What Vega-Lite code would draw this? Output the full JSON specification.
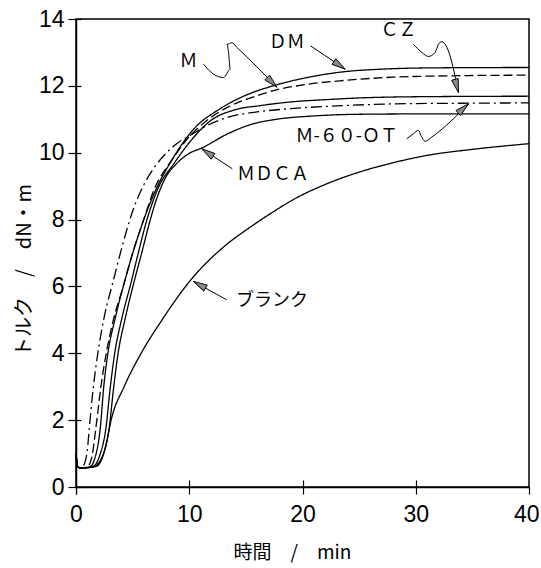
{
  "$schema": "https://vega.github.io/schema/vega-lite/v6.json",
  "width": 453,
  "height": 468,
  "autosize": {"type": "none"},
  "padding": {"left": 76, "top": 19, "right": 12, "bottom": 81},
  "background": "white",
  "config": {
    "view": {"stroke": "black", "strokeWidth": 1.5},
    "axis": {"grid": false, "domainColor": "black", "domainWidth": 1.5, "tickColor": "black", "tickWidth": 1.2, "labelColor": "black", "titleColor": "black"}
  },
  "datasets": {
    "curves": [
      {"s": "DM", "t": 0, "v": 1.0}, {"s": "DM", "t": 0.15, "v": 0.6}, {"s": "DM", "t": 0.5, "v": 0.57}, {"s": "DM", "t": 1.2, "v": 0.6}, {"s": "DM", "t": 1.7, "v": 0.9}, {"s": "DM", "t": 2.15, "v": 1.78}, {"s": "DM", "t": 2.45, "v": 3.0}, {"s": "DM", "t": 2.8, "v": 3.96}, {"s": "DM", "t": 3.5, "v": 5.1}, {"s": "DM", "t": 4.5, "v": 6.4}, {"s": "DM", "t": 5.9, "v": 7.92}, {"s": "DM", "t": 7.06, "v": 8.9}, {"s": "DM", "t": 8.5, "v": 9.8}, {"s": "DM", "t": 10.4, "v": 10.71}, {"s": "DM", "t": 12.7, "v": 11.31}, {"s": "DM", "t": 15, "v": 11.72}, {"s": "DM", "t": 17.4, "v": 12.0}, {"s": "DM", "t": 20, "v": 12.22}, {"s": "DM", "t": 23.6, "v": 12.42}, {"s": "DM", "t": 27, "v": 12.5}, {"s": "DM", "t": 32, "v": 12.54}, {"s": "DM", "t": 40, "v": 12.55},
      {"s": "M", "t": 0, "v": 1.0}, {"s": "M", "t": 0.15, "v": 0.6}, {"s": "M", "t": 0.5, "v": 0.57}, {"s": "M", "t": 1.0, "v": 0.6}, {"s": "M", "t": 1.4, "v": 0.9}, {"s": "M", "t": 1.76, "v": 1.78}, {"s": "M", "t": 2.2, "v": 3.0}, {"s": "M", "t": 2.65, "v": 3.96}, {"s": "M", "t": 3.3, "v": 5.0}, {"s": "M", "t": 4.12, "v": 5.94}, {"s": "M", "t": 5.0, "v": 7.0}, {"s": "M", "t": 5.9, "v": 7.92}, {"s": "M", "t": 6.9, "v": 8.9}, {"s": "M", "t": 8.4, "v": 9.75}, {"s": "M", "t": 9.8, "v": 10.4}, {"s": "M", "t": 11.5, "v": 10.95}, {"s": "M", "t": 13.5, "v": 11.38}, {"s": "M", "t": 15.5, "v": 11.65}, {"s": "M", "t": 17.7, "v": 11.88}, {"s": "M", "t": 20.5, "v": 12.05}, {"s": "M", "t": 23.6, "v": 12.16}, {"s": "M", "t": 28, "v": 12.26}, {"s": "M", "t": 33, "v": 12.3}, {"s": "M", "t": 40, "v": 12.32},
      {"s": "CZ", "t": 0, "v": 1.0}, {"s": "CZ", "t": 0.15, "v": 0.6}, {"s": "CZ", "t": 0.5, "v": 0.57}, {"s": "CZ", "t": 1.5, "v": 0.62}, {"s": "CZ", "t": 2.1, "v": 0.95}, {"s": "CZ", "t": 2.65, "v": 1.78}, {"s": "CZ", "t": 3.0, "v": 2.9}, {"s": "CZ", "t": 3.4, "v": 3.96}, {"s": "CZ", "t": 4.05, "v": 5.05}, {"s": "CZ", "t": 4.85, "v": 6.1}, {"s": "CZ", "t": 5.5, "v": 7.0}, {"s": "CZ", "t": 6.2, "v": 7.92}, {"s": "CZ", "t": 7.2, "v": 8.9}, {"s": "CZ", "t": 8.7, "v": 9.7}, {"s": "CZ", "t": 10, "v": 10.3}, {"s": "CZ", "t": 11.85, "v": 10.95}, {"s": "CZ", "t": 14, "v": 11.28}, {"s": "CZ", "t": 16.3, "v": 11.41}, {"s": "CZ", "t": 19, "v": 11.52}, {"s": "CZ", "t": 22.2, "v": 11.59}, {"s": "CZ", "t": 26, "v": 11.65}, {"s": "CZ", "t": 32, "v": 11.68}, {"s": "CZ", "t": 40, "v": 11.69},
      {"s": "M-60-OT", "t": 0, "v": 1.0}, {"s": "M-60-OT", "t": 0.15, "v": 0.6}, {"s": "M-60-OT", "t": 0.5, "v": 0.57}, {"s": "M-60-OT", "t": 0.8, "v": 0.75}, {"s": "M-60-OT", "t": 1.0, "v": 1.1}, {"s": "M-60-OT", "t": 1.18, "v": 1.78}, {"s": "M-60-OT", "t": 1.5, "v": 2.9}, {"s": "M-60-OT", "t": 1.91, "v": 3.96}, {"s": "M-60-OT", "t": 2.5, "v": 5.1}, {"s": "M-60-OT", "t": 3.24, "v": 6.1}, {"s": "M-60-OT", "t": 4.0, "v": 7.1}, {"s": "M-60-OT", "t": 5.0, "v": 8.25}, {"s": "M-60-OT", "t": 6.0, "v": 9.05}, {"s": "M-60-OT", "t": 7.0, "v": 9.6}, {"s": "M-60-OT", "t": 8.0, "v": 10.0}, {"s": "M-60-OT", "t": 9.0, "v": 10.3}, {"s": "M-60-OT", "t": 10.0, "v": 10.5}, {"s": "M-60-OT", "t": 11.5, "v": 10.8}, {"s": "M-60-OT", "t": 13.3, "v": 11.05}, {"s": "M-60-OT", "t": 16, "v": 11.22}, {"s": "M-60-OT", "t": 19, "v": 11.32}, {"s": "M-60-OT", "t": 23, "v": 11.4}, {"s": "M-60-OT", "t": 28, "v": 11.46}, {"s": "M-60-OT", "t": 34, "v": 11.48}, {"s": "M-60-OT", "t": 40, "v": 11.49},
      {"s": "MDCA", "t": 0, "v": 1.0}, {"s": "MDCA", "t": 0.15, "v": 0.6}, {"s": "MDCA", "t": 0.5, "v": 0.57}, {"s": "MDCA", "t": 1.5, "v": 0.6}, {"s": "MDCA", "t": 2.3, "v": 0.9}, {"s": "MDCA", "t": 2.94, "v": 1.78}, {"s": "MDCA", "t": 3.3, "v": 2.9}, {"s": "MDCA", "t": 3.7, "v": 3.96}, {"s": "MDCA", "t": 4.35, "v": 5.05}, {"s": "MDCA", "t": 5.1, "v": 6.1}, {"s": "MDCA", "t": 5.8, "v": 7.0}, {"s": "MDCA", "t": 6.5, "v": 7.92}, {"s": "MDCA", "t": 7.1, "v": 8.6}, {"s": "MDCA", "t": 7.9, "v": 9.25}, {"s": "MDCA", "t": 8.9, "v": 9.68}, {"s": "MDCA", "t": 10, "v": 9.98}, {"s": "MDCA", "t": 11.1, "v": 10.14}, {"s": "MDCA", "t": 13.3, "v": 10.55}, {"s": "MDCA", "t": 15.5, "v": 10.85}, {"s": "MDCA", "t": 17.7, "v": 11.0}, {"s": "MDCA", "t": 21, "v": 11.1}, {"s": "MDCA", "t": 25, "v": 11.15}, {"s": "MDCA", "t": 30, "v": 11.16}, {"s": "MDCA", "t": 40, "v": 11.16},
      {"s": "ブランク", "t": 0, "v": 1.0}, {"s": "ブランク", "t": 0.15, "v": 0.6}, {"s": "ブランク", "t": 0.5, "v": 0.57}, {"s": "ブランク", "t": 1.8, "v": 0.62}, {"s": "ブランク", "t": 2.4, "v": 0.95}, {"s": "ブランク", "t": 2.7, "v": 1.35}, {"s": "ブランク", "t": 3.1, "v": 2.0}, {"s": "ブランク", "t": 4.25, "v": 3.0}, {"s": "ブランク", "t": 5.75, "v": 4.0}, {"s": "ブランク", "t": 7.5, "v": 4.95}, {"s": "ブランク", "t": 10.15, "v": 6.2}, {"s": "ブランク", "t": 13.1, "v": 7.2}, {"s": "ブランク", "t": 15.5, "v": 7.8}, {"s": "ブランク", "t": 17.5, "v": 8.25}, {"s": "ブランク", "t": 19.2, "v": 8.6}, {"s": "ブランク", "t": 22, "v": 9.05}, {"s": "ブランク", "t": 25.1, "v": 9.43}, {"s": "ブランク", "t": 28, "v": 9.7}, {"s": "ブランク", "t": 31, "v": 9.92}, {"s": "ブランク", "t": 35, "v": 10.1}, {"s": "ブランク", "t": 40, "v": 10.27}
    ],
    "leaders": [
      {"id": "DM", "k": 1, "t": 20.7, "v": 13.2}, {"id": "DM", "k": 2, "t": 23.77, "v": 12.5},
      {"id": "M", "k": 1, "t": 11.26, "v": 12.65}, {"id": "M", "k": 2, "t": 12.14, "v": 12.35}, {"id": "M", "k": 3, "t": 13.03, "v": 12.25}, {"id": "M", "k": 4, "t": 13.62, "v": 12.5}, {"id": "M", "k": 5, "t": 13.47, "v": 13.0}, {"id": "M", "k": 6, "t": 13.33, "v": 13.24}, {"id": "M", "k": 7, "t": 13.77, "v": 13.29}, {"id": "M", "k": 8, "t": 14.21, "v": 13.15}, {"id": "M", "k": 9, "t": 17.74, "v": 11.96},
      {"id": "CZ", "k": 1, "t": 29.8, "v": 13.24}, {"id": "CZ", "k": 2, "t": 30.54, "v": 13.0}, {"id": "CZ", "k": 3, "t": 31.12, "v": 12.88}, {"id": "CZ", "k": 4, "t": 31.71, "v": 13.0}, {"id": "CZ", "k": 5, "t": 32.0, "v": 13.24}, {"id": "CZ", "k": 6, "t": 32.3, "v": 13.32}, {"id": "CZ", "k": 7, "t": 32.75, "v": 13.15}, {"id": "CZ", "k": 8, "t": 33.77, "v": 11.8},
      {"id": "OT", "k": 1, "t": 29.21, "v": 10.42}, {"id": "OT", "k": 2, "t": 29.8, "v": 10.57}, {"id": "OT", "k": 3, "t": 30.24, "v": 10.67}, {"id": "OT", "k": 4, "t": 30.45, "v": 10.52}, {"id": "OT", "k": 5, "t": 30.83, "v": 10.34}, {"id": "OT", "k": 6, "t": 31.42, "v": 10.47}, {"id": "OT", "k": 7, "t": 34.65, "v": 11.46},
      {"id": "MDCA", "k": 1, "t": 13.8, "v": 9.52}, {"id": "MDCA", "k": 2, "t": 11.1, "v": 10.12},
      {"id": "BL", "k": 1, "t": 13.3, "v": 5.6}, {"id": "BL", "k": 2, "t": 10.38, "v": 6.15}
    ],
    "heads": [
      {"id": "DM", "t": 23.77, "v": 12.5, "dir": 124},
      {"id": "M", "t": 17.74, "v": 11.96, "dir": 135},
      {"id": "CZ", "t": 33.77, "v": 11.8, "dir": 165},
      {"id": "OT", "t": 34.65, "v": 11.46, "dir": 48},
      {"id": "MDCA", "t": 11.1, "v": 10.12, "dir": 304},
      {"id": "BL", "t": 10.38, "v": 6.15, "dir": 299}
    ],
    "labels": [
      {"label": "Ｍ", "t": 9.94, "v": 12.7},
      {"label": "ＤＭ", "t": 18.6, "v": 13.29},
      {"label": "ＣＺ", "t": 28.47, "v": 13.64},
      {"label": "Ｍ-６０-ＯＴ", "t": 23.9, "v": 10.47},
      {"label": "ＭＤＣＡ", "t": 17.4, "v": 9.33},
      {"label": "ブランク", "t": 17.3, "v": 5.56}
    ]
  },
  "layer": [
    {
      "data": {"name": "curves"},
      "mark": {"type": "line", "color": "black", "strokeWidth": 1.3, "interpolate": "monotone"},
      "encoding": {
        "x": {"field": "t", "type": "quantitative", "scale": {"domain": [0, 40], "nice": false},
          "axis": {"values": [0, 10, 20, 30, 40], "tickSize": 7, "labelFont": "Liberation Sans", "labelFontSize": 23, "labelPadding": 9, "labelFlush": 1, "labelFlushOffset": 10,
            "labelExpr": "datum.value == 0 ? '' : datum.label",
            "title": "時間　/　min", "titleFont": "Noto Sans CJK JP", "titleFontSize": 19, "titleFontWeight": "normal", "titleX": 216, "titleY": 65, "titleBaseline": "middle", "titleAnchor": "middle"}},
        "y": {"field": "v", "type": "quantitative", "scale": {"domain": [0, 14], "nice": false},
          "axis": {"values": [0, 2, 4, 6, 8, 10, 12, 14], "tickSize": 8, "labelFont": "Liberation Sans", "labelFontSize": 23, "labelPadding": 4, "labelFlush": false,
            "title": "トルク　/　dN・m", "titleFont": "Noto Sans CJK JP", "titleFontSize": 20, "titleFontWeight": "normal", "titleAngle": -90, "titleX": -52, "titleY": 251, "titleBaseline": "middle", "titleAnchor": "middle"}},
        "strokeDash": {"field": "s", "type": "nominal",
          "scale": {"domain": ["DM", "M", "CZ", "M-60-OT", "MDCA", "ブランク"], "range": [[1, 0], [9, 4], [1, 0], [11, 4, 2, 4], [1, 0], [1, 0]]},
          "legend": null}
      }
    },
    {
      "data": {"name": "leaders"},
      "mark": {"type": "line", "color": "black", "strokeWidth": 1, "interpolate": "monotone"},
      "encoding": {
        "x": {"field": "t", "type": "quantitative", "axis": null},
        "y": {"field": "v", "type": "quantitative", "axis": null},
        "detail": {"field": "id"},
        "order": {"field": "k"}
      }
    },
    {
      "data": {"name": "heads"},
      "mark": {"type": "point", "shape": "M0,0L0.45,1.8L-0.45,1.8Z", "filled": true, "fill": "#8a8a8a", "stroke": "black", "strokeWidth": 0.9, "size": 230, "opacity": 1},
      "encoding": {
        "x": {"field": "t", "type": "quantitative",
          "axis": {"orient": "bottom", "values": [0], "tickSize": 7, "domain": false, "labelFont": "Liberation Sans", "labelFontSize": 23, "labelPadding": 9, "labelFlush": false, "title": null}},
        "y": {"field": "v", "type": "quantitative", "axis": null},
        "angle": {"field": "dir", "type": "quantitative", "scale": null}
      }
    },
    {
      "data": {"name": "labels"},
      "mark": {"type": "text", "font": "Noto Sans CJK JP", "fontSize": 18, "color": "black", "align": "center", "baseline": "middle"},
      "encoding": {
        "x": {"field": "t", "type": "quantitative",
          "axis": {"orient": "bottom", "values": [10, 20, 30], "tickSize": -7, "labels": false, "domain": false, "title": null}},
        "y": {"field": "v", "type": "quantitative",
          "axis": {"orient": "left", "values": [0, 2, 4, 6, 8, 10, 12, 14], "tickSize": -5, "labels": false, "domain": false, "title": null}},
        "text": {"field": "label"}
      }
    }
  ],
  "resolve": {"axis": {"x": "independent", "y": "independent"}}
}
